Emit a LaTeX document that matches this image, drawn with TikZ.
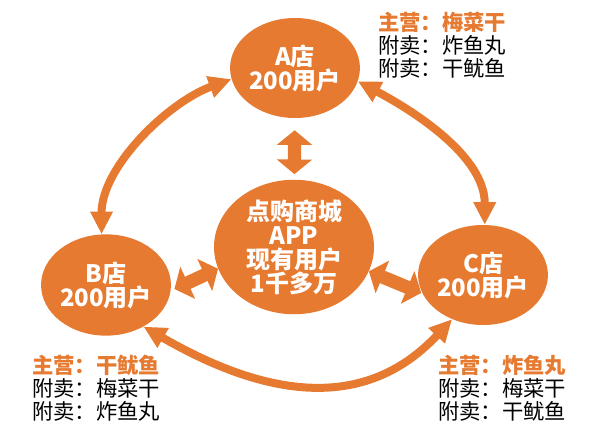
\documentclass[tikz,border=0pt]{standalone}
\usepackage{fontspec}
\newfontfamily\cjk{Noto Sans CJK SC}
\usetikzlibrary{shapes.geometric,arrows.meta}
\definecolor{shoporange}{RGB}{230,122,48}
\tikzset{
  shop/.style={ellipse, fill=shoporange, text=white, inner sep=0pt, align=center,
    font=\cjk\bfseries\fontsize{18}{18}\selectfont},
  ring/.style={draw=shoporange, line width=6pt,
    {Triangle[width=16pt,length=17pt]}-{Triangle[width=16pt,length=17pt]}},
  link/.style={draw=shoporange, line width=10pt,
    {Triangle[width=26pt,length=11pt]}-{Triangle[width=26pt,length=11pt]}},
  note/.style={anchor=west, align=left, inner sep=0pt,
    font=\cjk\fontsize{16}{17.25}\selectfont}
}
\newcommand{\mainitem}[1]{{\bfseries\color{shoporange}#1}}

\begin{document}
\begin{tikzpicture}[x=0.75pt, y=-0.75pt]
  \useasboundingbox (0,0) rectangle (600,432);
  %Define nodes
  \node[shop, minimum width=90pt, minimum height=75pt] (A) at (295,68) {A店\\200用户};
  \node[shop, minimum width=90pt, minimum height=76pt] (B) at (106,285) {B店\\200用户};
  \node[shop, minimum width=90pt, minimum height=75pt] (C) at (483,275) {C店\\200用户};
  \node[shop, minimum width=120pt, minimum height=97pt] (app) at (294,247) {点购商城\\APP\\现有用户\\1千多万};

  % Notes
  \node[note] (Anote) at (378,45) {\mainitem{主营：梅菜干}\\附卖：炸鱼丸\\附卖：干鱿鱼};
  \node[note] (Bnote) at (32,388) {\mainitem{主营：干鱿鱼}\\附卖：梅菜干\\附卖：炸鱼丸};
  \node[note] (Cnote) at (438,388) {\mainitem{主营：炸鱼丸}\\附卖：梅菜干\\附卖：干鱿鱼};

  % Connect the nodes
  \draw[ring] (B.95) to[out=90, in=200, looseness=0.85] (A.190);
  \draw[ring] (A.-12) to[out=-28, in=90, looseness=0.9] (C.88);
  \draw[ring] (B.-48) to[out=-30, in=227, looseness=1.1] (C.235);
  \draw[link, shorten <=9pt, shorten >=4pt] (A) -- (app);
  \draw[link, shorten <=3pt] (B.-5) -- (app.196);
  \draw[link, shorten >=1pt] (app.-18) -- (C.197);
\end{tikzpicture}
\end{document}
